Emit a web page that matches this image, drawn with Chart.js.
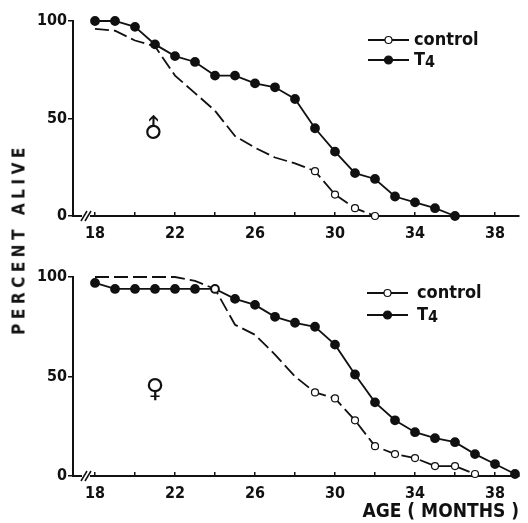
<!DOCTYPE html>
<html>
<head>
<meta charset="utf-8">
<script src="https://cdn.jsdelivr.net/npm/chart.js@4.4.1/dist/chart.umd.min.js"></script>
<style>
  body { margin: 0; background: #fff; }
  #wrap { position: relative; width: 528px; height: 523px; overflow: hidden; }
  canvas { position: absolute; left: 0; }
  #top-chart { top: 0; }
  #bottom-chart { top: 240px; }
  #ylabel {
    position: absolute; left: 19px; top: 239px;
    transform: translate(-50%, -50%) rotate(-90deg);
    font: bold 17px "DejaVu Sans Condensed", "DejaVu Sans", sans-serif; letter-spacing: 4.5px;
    white-space: pre; line-height: 1; color: #111;
  }
</style>
</head>
<body>
<div id="wrap">
  <canvas id="top-chart" width="528" height="245"></canvas>
  <canvas id="bottom-chart" width="528" height="283"></canvas>
  <div id="ylabel">PERCENT ALIVE</div>
</div>
<script>
// ── Data ────────────────────────────────────────────────────────────────────
const maleT4Months   = [18,19,20,21,22,23,24,25,26,27,28,29,30,31,32,33,34,35,36];
const maleT4Alive    = [100,100,97,88,82,79,72,72,68,66,60,45,33,22,19,10,7,4,0];
const maleCtrlMonths = [18,19,20,21,22,23,24,25,26,27,28,29,30,31,32];
const maleCtrlAlive  = [96,95,90,87,72,63,54,41,35,30,27,23,11,4,0];

const femT4Months    = [18,19,20,21,22,23,24,25,26,27,28,29,30,31,32,33,34,35,36,37,38,39];
const femT4Alive     = [97,94,94,94,94,94,94,89,86,80,77,75,66,51,37,28,22,19,17,11,6,1];
const femCtrlMonths  = [18,19,20,21,22,23,24,25,26,27,28,29,30,31,32,33,34,35,36,37];
const femCtrlAlive   = [100,100,100,100,100,98,94,76,71,61,50,42,39,28,15,11,9,5,5,1];

const xTicks  = [18,20,22,24,26,28,30,32,34,36,38];
const xLabels = [18,22,26,30,34,38];
const yTicks  = [0,50,100];

const pts  = (xs, ys) => xs.map((x, i) => ({ x, y: ys[i] }));
const FONT = '"DejaVu Sans Condensed", "DejaVu Sans", sans-serif';
const INK  = '#111';

// ── Decorations: axis break, sex symbol, legend ─────────────────────────────
const decor = {
  id: 'decor',
  afterDraw(chart, args, o) {
    const { ctx, scales: { x, y } } = chart;
    ctx.save();

    // axis break "//"
    const bx = x.getPixelForValue(17.55), by = y.getPixelForValue(0);
    ctx.fillStyle = '#fff';
    ctx.fillRect(bx - 4, by - 2, 8, 4);
    ctx.strokeStyle = INK; ctx.lineWidth = 1.5;
    [-2, 2].forEach(d => {
      ctx.beginPath();
      ctx.moveTo(bx + d - 3, by + 5);
      ctx.lineTo(bx + d + 3, by - 5);
      ctx.stroke();
    });

    // sex symbol
    ctx.save();
    ctx.translate(x.getPixelForValue(o.symX), y.getPixelForValue(o.symY));
    ctx.rotate(o.symRot);
    ctx.fillStyle = INK;
    ctx.font = `26px "DejaVu Sans", sans-serif`;
    ctx.textAlign = 'center'; ctx.textBaseline = 'middle';
    ctx.fillText(o.symbol, 0, 0);
    ctx.restore();

    // legend
    const L = o.legend;
    const sample = (yy, filled) => {
      ctx.beginPath();
      ctx.moveTo(L.x0, yy); ctx.lineTo(L.x1, yy);
      ctx.lineWidth = 1.8; ctx.strokeStyle = INK; ctx.stroke();
      ctx.beginPath();
      ctx.arc((L.x0 + L.x1) / 2, yy, filled ? 4 : 3.5, 0, Math.PI * 2);
      ctx.fillStyle = filled ? INK : '#fff'; ctx.fill();
      ctx.lineWidth = 1.2; ctx.stroke();
    };
    sample(L.yCtrl, false);
    sample(L.yT4, true);
    ctx.fillStyle = INK;
    ctx.textAlign = 'left'; ctx.textBaseline = 'middle';
    ctx.font = `bold 18px ${FONT}`;
    ctx.fillText('control', L.textX, L.yCtrl);
    ctx.fillText('T', L.textX, L.yT4);
    const w = ctx.measureText('T').width;
    ctx.font = `bold 16px ${FONT}`;
    ctx.fillText('4', L.textX + w, L.yT4 + 3);

    ctx.restore();
  }
};

// ── Chart factory ───────────────────────────────────────────────────────────
function makeChart(id, ctrl, t4, opt) {
  return new Chart(document.getElementById(id), {
    type: 'line',
    data: { datasets: [
      { label: 'control', data: ctrl, borderColor: INK, borderWidth: 1.8, borderDash: [14, 5],
        pointRadius: c => opt.ctrlMarker(c.raw.x) ? 3.5 : 0,
        pointBackgroundColor: '#fff', pointBorderColor: INK, pointBorderWidth: 1.2, clip: false },
      { label: 'T4', data: t4, borderColor: INK, borderWidth: 1.8,
        pointRadius: 4, pointBackgroundColor: INK, pointBorderColor: INK, clip: false }
    ]},
    options: {
      responsive: false, animation: false,
      layout: { padding: { top: opt.top, right: 9, left: 0, bottom: 0 } },
      plugins: { legend: { display: false }, tooltip: { enabled: false }, decor: opt.decor },
      scales: {
        x: {
          type: 'linear', min: 16.9, max: 39.2,
          afterBuildTicks: s => { s.ticks = xTicks.map(v => ({ value: v })); },
          afterFit: s => { s.height = opt.xHeight; },
          grid: { drawOnChartArea: false, drawTicks: true, tickLength: -4, color: INK, lineWidth: 1.5 },
          border: { display: true, color: INK, width: 2 },
          ticks: { autoSkip: false, maxRotation: 0, padding: 12, color: INK,
                   font: { family: FONT, size: 16, weight: 'bold' },
                   callback: v => xLabels.includes(v) ? String(v) : '' },
          title: opt.xTitle
        },
        y: {
          min: 0, max: 100,
          afterBuildTicks: s => { s.ticks = yTicks.map(v => ({ value: v })); },
          afterFit: s => { s.width = 73; },
          grid: { drawOnChartArea: false, drawTicks: true, tickLength: 5, color: INK, lineWidth: 1.5 },
          border: { display: true, color: INK, width: 2 },
          ticks: { padding: 1, color: INK, font: { family: FONT, size: 16, weight: 'bold' } }
        }
      }
    },
    plugins: [decor]
  });
}

makeChart('top-chart', pts(maleCtrlMonths, maleCtrlAlive), pts(maleT4Months, maleT4Alive), {
  top: 21, xHeight: 29,
  ctrlMarker: m => m >= 29,
  xTitle: { display: false },
  decor: { symbol: '\u2642', symX: 21, symY: 44, symRot: -Math.PI / 4,
           legend: { x0: 368, x1: 409, yCtrl: 40, yT4: 60, textX: 414 } }
});

makeChart('bottom-chart', pts(femCtrlMonths, femCtrlAlive), pts(femT4Months, femT4Alive), {
  top: 37, xHeight: 47,
  ctrlMarker: m => m >= 29 || m === 24,
  xTitle: { display: true, text: 'AGE ( MONTHS )', align: 'end', color: INK,
            font: { family: FONT, size: 19, weight: 'bold' }, padding: { top: 0, bottom: 0 } },
  decor: { symbol: '\u2640', symX: 21, symY: 43, symRot: 0,
           legend: { x0: 367, x1: 408, yCtrl: 53, yT4: 75, textX: 417 } }
});
</script>
</body>
</html>
